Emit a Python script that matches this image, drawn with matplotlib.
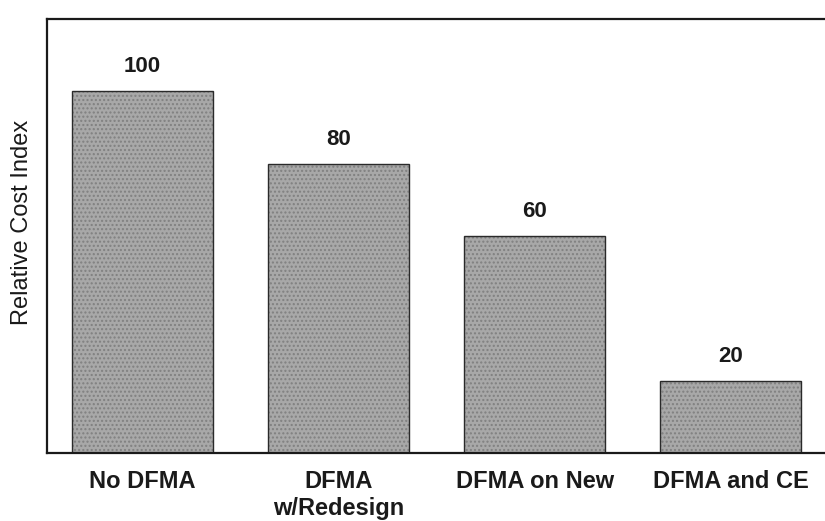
import matplotlib
matplotlib.use("Agg")
import matplotlib.pyplot as plt

categories = ["No DFMA", "DFMA\nw/Redesign", "DFMA on New", "DFMA and CE"]
cost_index = [100, 80, 60, 20]

plt.rcParams["font.family"] = ["Liberation Sans", "DejaVu Sans"]

fig = plt.figure(figsize=(8.25, 5.21), dpi=100)
fig.patch.set_facecolor("white")

# axes frame runs off the right edge of the figure
ax = fig.add_axes([47 / 825, 1 - 453 / 521, 0.993, (453 - 19) / 521])

x = range(len(categories))
bars = ax.bar(x, cost_index, width=0.72, color="#a8a8a8",
              edgecolor="#2a2a2a", linewidth=1.0, hatch="....")
for b in bars:
    b._hatch_color = (0.5, 0.5, 0.5, 1.0)

ax.bar_label(bars, labels=[str(v) for v in cost_index], padding=10,
             fontsize=16, fontweight="bold", color="#1a1a1a")

ax.set_xlim(-0.485, 3.69)
ax.set_ylim(0, 120)
ax.set_xticks(list(x))
ax.set_xticklabels(categories, fontsize=17, fontweight="bold", color="#1a1a1a",
                   linespacing=1.25)
ax.tick_params(axis="x", length=0, pad=12)
ax.set_yticks([])

for side in ("left", "top", "bottom"):
    ax.spines[side].set_linewidth(1.6)
    ax.spines[side].set_color("#1a1a1a")
ax.spines["right"].set_visible(False)

fig.text(22 / 825, 1 - 222 / 521, "Relative Cost Index", rotation=90,
         ha="center", va="center", fontsize=17, color="#1a1a1a")

fig.savefig("out.png", dpi=100, facecolor="white")
